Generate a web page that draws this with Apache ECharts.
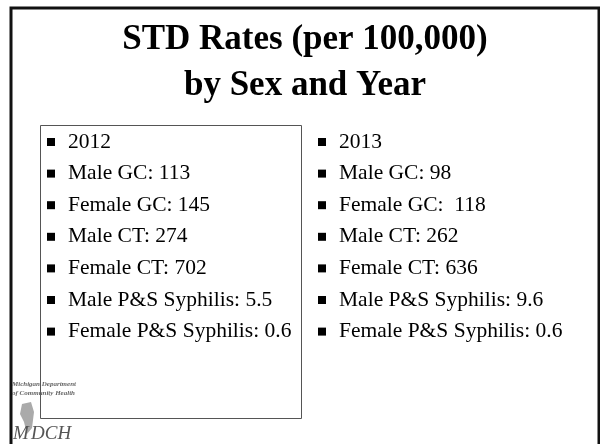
<!DOCTYPE html>
<html>
<head>
<meta charset="utf-8">
<script src="https://cdn.jsdelivr.net/npm/echarts@6/dist/echarts.min.js"></script>
<style>
  html, body { margin: 0; padding: 0; background: #fff; }
  #main { width: 600px; height: 444px; }
</style>
</head>
<body>
<div id="main"></div>
<script>
// 标题
var titleLines = ["STD Rates (per 100,000)", "by Sex and Year"];
// 年份与指标
var years = ["2012", "2013"];
var labels = ["Male GC", "Female GC", "Male CT", "Female CT", "Male P&S Syphilis", "Female P&S Syphilis"];
var values2012 = ["113", "145", "274", "702", "5.5", "0.6"];
var values2013 = ["98", " 118", "262", "636", "9.6", "0.6"];

(function () {
  var myChart = echarts.init(document.getElementById("main"));
  var serif = "'Liberation Serif', 'DejaVu Serif', serif";

  var els = [];
  // 外框
  els.push({ type: "polyline", shape: { points: [[11, 444], [11, 8], [599, 8], [599, 444]] },
    style: { stroke: "#111", lineWidth: 3, fill: null } });
  // 左栏方框
  els.push({ type: "rect", shape: { x: 40.5, y: 125.5, width: 261, height: 293 },
    style: { stroke: "#555", lineWidth: 1, fill: null } });

  // 标题文字
  titleLines.forEach(function (t, i) {
    els.push({ type: "text", x: 305, y: 40 + i * 46,
      style: { text: t, font: "bold 35px " + serif, fill: "#000", align: "center", verticalAlign: "middle" } });
  });

  // 两栏列表
  function column(x, year, vals) {
    var rows = [year].concat(labels.map(function (l, i) { return l + ": " + vals[i]; }));
    rows.forEach(function (r, i) {
      var y = 142 + i * 31.6;
      els.push({ type: "rect", shape: { x: x, y: y - 4, width: 8, height: 8 }, style: { fill: "#000" } });
      els.push({ type: "text", x: x + 21, y: y,
        style: { text: r, font: "21.5px " + serif, fill: "#000", verticalAlign: "middle" } });
    });
  }
  column(47, years[0], values2012);
  column(318, years[1], values2013);

  // 左下角标志
  els.push({ type: "text", x: 12, y: 381, style: { text: "Michigan Department", font: "italic bold 7px " + serif, fill: "#666" } });
  els.push({ type: "text", x: 12, y: 390, style: { text: "of Community Health", font: "italic bold 7px " + serif, fill: "#666" } });
  els.push({ type: "polygon", shape: { points: [[22, 404], [31, 402], [34, 412], [32, 428], [27, 434], [24, 422], [20, 414]] },
    style: { fill: "#aaa" } });
  els.push({ type: "text", x: 13, y: 434, style: { text: "M", font: "italic 19px " + serif, fill: "#555", verticalAlign: "middle" } });
  els.push({ type: "text", x: 31, y: 434, style: { text: "DCH", font: "italic 19px " + serif, fill: "#555", verticalAlign: "middle" } });

  myChart.setOption({
    backgroundColor: "#fff",
    animation: false,
    graphic: { elements: els }
  });

  window.addEventListener("resize", function () {
    myChart.resize();
  });
})();
</script>
</body>
</html>
